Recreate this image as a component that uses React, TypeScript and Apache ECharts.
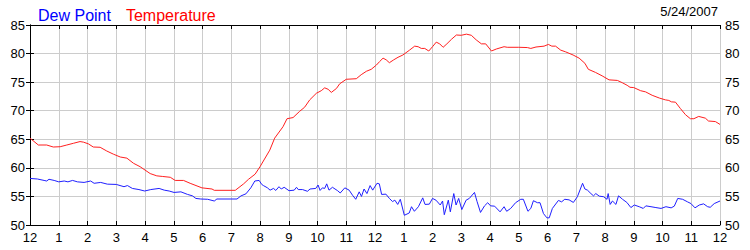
import React, { useEffect, useRef } from "react";
import * as echarts from "echarts";

const hourLabels = ["12","1","2","3","4","5","6","7","8","9","10","11","12","1","2","3","4","5","6","7","8","9","10","11","12"];

const tempHours = [0,0.29,0.58,0.81,1.05,1.28,1.51,1.74,1.86,2.03,2.2,2.44,2.67,2.9,3.14,3.37,3.6,3.83,4.18,4.41,4.6,4.88,5.05,5.34,5.57,5.98,6.33,6.41,7.14,7.43,7.6,7.83,8.0,8.34,8.51,8.8,8.94,9.15,9.38,9.55,9.73,9.96,10.13,10.25,10.37,10.48,10.66,10.77,11.0,11.35,11.52,11.7,11.87,12.05,12.16,12.28,12.39,12.5,12.65,12.8,12.97,13.2,13.38,13.5,13.61,13.73,13.87,14.0,14.13,14.25,14.37,14.5,14.66,14.83,15.0,15.18,15.35,15.52,15.7,15.85,16.05,16.22,16.49,16.6,17.0,17.3,17.42,17.6,17.88,18.03,18.15,18.28,18.46,18.63,18.89,19.1,19.3,19.42,19.67,19.9,20.14,20.43,20.6,20.77,20.87,21.0,21.24,21.41,21.64,21.9,22.1,22.22,22.31,22.45,22.62,22.8,22.97,23.09,23.26,23.49,23.6,23.84,24.0];
const tempValues = [65.2,64.0,64.0,63.65,63.7,64.0,64.3,64.6,64.5,64.2,63.65,63.6,62.95,62.4,61.9,61.7,60.8,60.2,59.0,58.6,58.5,58.35,57.8,57.8,57.3,56.5,56.3,56.07,56.07,57.2,58.0,58.9,60.2,63.1,65.2,67.2,68.6,68.8,69.9,70.6,71.9,73.05,73.5,74.0,73.75,73.2,73.9,74.7,75.5,75.6,76.3,76.9,77.25,78.0,78.6,79.2,78.9,78.4,78.9,79.35,79.75,80.6,81.3,81.2,80.9,80.9,80.45,81.2,82.0,81.7,81.1,81.7,82.5,83.25,83.2,83.4,83.2,82.4,81.7,81.7,80.45,80.8,81.2,81.1,81.1,81.05,80.9,81.15,81.3,81.6,81.3,81.3,80.6,80.3,79.75,79.2,78.3,77.25,76.7,76.1,75.4,75.3,74.9,74.45,74.1,74.05,73.5,73.3,72.7,72.2,71.9,71.8,71.55,71.5,70.4,69.3,68.6,68.6,69.0,68.7,68.2,68.1,67.6];

const dewHours = [0,0.26,0.49,0.58,0.66,0.84,1.0,1.19,1.32,1.48,1.65,1.88,2.11,2.23,2.46,2.69,3.0,3.27,3.39,3.56,3.79,3.99,4.2,4.49,4.67,4.84,5.01,5.25,5.48,5.65,5.77,5.94,6.18,6.41,6.5,6.99,7.2,7.34,7.51,7.68,7.82,7.97,8.06,8.12,8.26,8.35,8.47,8.55,8.66,8.74,8.84,9.01,9.19,9.27,9.33,9.48,9.65,9.74,9.94,10.02,10.09,10.17,10.25,10.32,10.4,10.52,10.7,10.79,10.95,11.1,11.22,11.33,11.45,11.53,11.62,11.72,11.83,11.92,12.07,12.15,12.23,12.38,12.5,12.61,12.69,12.79,12.88,13.02,13.19,13.27,13.37,13.51,13.66,13.74,13.89,14.0,14.12,14.27,14.35,14.41,14.55,14.62,14.74,14.82,14.91,15.02,15.17,15.28,15.46,15.55,15.67,15.81,15.92,16.02,16.16,16.35,16.49,16.58,16.72,16.89,17.07,17.16,17.32,17.42,17.51,17.65,17.74,17.86,17.98,18.06,18.17,18.38,18.49,18.6,18.75,18.9,19.04,19.22,19.3,19.39,19.51,19.6,19.68,19.8,19.95,20.07,20.11,20.18,20.26,20.38,20.47,20.61,20.76,20.9,21.02,21.19,21.33,21.42,21.6,21.77,21.95,22.12,22.3,22.41,22.53,22.7,22.87,22.99,23.13,23.28,23.43,23.57,23.66,23.8,24.0];
const dewValues = [58.15,58.05,57.8,57.7,58.0,57.8,57.55,57.7,57.55,57.8,57.55,57.45,57.7,57.3,57.45,57.15,57.1,56.7,56.9,56.4,56.2,55.95,56.2,56.4,56.1,55.95,55.7,55.8,55.35,55.1,54.65,54.55,54.5,54.2,54.55,54.55,54.55,55.1,55.45,56.5,57.7,57.8,57.1,56.9,56.5,56.1,56.4,56.05,56.7,56.3,56.6,56.0,56.1,56.6,56.2,56.2,55.9,56.3,56.4,57.0,56.05,56.5,56.4,57.2,56.1,56.6,56.0,55.6,56.5,56.1,55.2,54.5,55.8,55.0,56.3,55.5,56.9,56.1,57.3,57.2,55.35,55.4,54.65,54.1,54.35,53.6,54.5,51.7,52.1,53.2,52.4,53.2,54.75,53.6,53.65,54.65,54.35,53.5,54.2,51.8,54.35,52.3,55.5,53.5,54.65,52.7,54.35,54.65,55.7,54.1,52.2,53.35,53.9,53.35,53.3,52.3,53.2,52.4,52.9,53.9,54.5,54.5,52.4,52.9,54.25,53.9,53.9,52.0,51.25,51.25,52.9,54.3,54.05,54.5,54.4,53.95,54.95,57.3,56.3,56.1,55.5,55.1,55.5,55.05,54.95,54.5,55.5,53.6,54.2,53.6,55.1,54.5,53.95,53.05,53.5,53.2,52.9,53.35,53.2,53.05,52.9,53.2,53.0,53.3,54.65,54.5,54.05,53.75,53.0,53.5,53.7,53.2,53.1,53.75,54.2];

const dateLabel = "5/24/2007";
const FONT = "'Liberation Sans', Arial, sans-serif";

export default function App() {
  const ref = useRef<HTMLDivElement>(null);
  useEffect(() => {
    if (!ref.current) return;
    const chart = echarts.init(ref.current, null, { renderer: "svg" });
    const pair = (hs: number[], vs: number[]) => hs.map((h, i) => [h, vs[i]]);
    const gridLine = { show: true, lineStyle: { color: "#cccccc", width: 1 } };
    const axisLine = { show: true, lineStyle: { color: "#000000", width: 1 } };
    const label = { color: "#000000", fontSize: 13, fontFamily: FONT };
    chart.setOption({
      animation: false,
      backgroundColor: "#ffffff",
      textStyle: { fontFamily: FONT },
      grid: { left: 30, right: 30, top: 25, bottom: 25, containLabel: false },
      legend: {
        left: 28,
        top: 2,
        icon: "none",
        itemWidth: 0,
        itemHeight: 0,
        itemGap: 10,
        selectedMode: false,
        textStyle: { fontSize: 16, fontFamily: FONT },
        data: [
          { name: "Dew Point", textStyle: { color: "#0000ff" } },
          { name: "Temperature", textStyle: { color: "#ff0000" } },
        ],
      },
      graphic: [
        {
          type: "text",
          right: 32,
          top: 5,
          style: { text: dateLabel, fill: "#000000", font: `13px ${FONT}` },
        },
      ],
      xAxis: [
        {
          type: "value",
          min: 0,
          max: 24,
          interval: 1,
          position: "bottom",
          axisLine,
          axisTick: { show: true, inside: true, length: 4, lineStyle: { color: "#000" } },
          splitLine: gridLine,
          axisLabel: { ...label, margin: 6, formatter: (v: number) => hourLabels[Math.round(v)] },
        },
        {
          type: "value",
          min: 0,
          max: 24,
          interval: 1,
          position: "top",
          axisLine,
          axisTick: { show: true, inside: true, length: 4, lineStyle: { color: "#000" } },
          splitLine: { show: false },
          axisLabel: { show: false },
        },
      ],
      yAxis: [
        {
          type: "value",
          min: 50,
          max: 85,
          interval: 5,
          position: "left",
          axisLine,
          axisTick: { show: true, inside: false, length: 4, lineStyle: { color: "#000" } },
          splitLine: gridLine,
          axisLabel: { ...label, margin: 5 },
        },
        {
          type: "value",
          min: 50,
          max: 85,
          interval: 5,
          position: "right",
          axisLine,
          axisTick: { show: true, inside: false, length: 4, lineStyle: { color: "#000" } },
          splitLine: { show: false },
          axisLabel: { ...label, margin: 5 },
        },
      ],
      series: [
        {
          name: "Dew Point",
          type: "line",
          data: pair(dewHours, dewValues),
          showSymbol: false,
          symbol: "none",
          lineStyle: { color: "#1f1fff", width: 1 },
          itemStyle: { color: "#0000ff" },
          z: 3,
        },
        {
          name: "Temperature",
          type: "line",
          data: pair(tempHours, tempValues),
          showSymbol: false,
          symbol: "none",
          lineStyle: { color: "#ff1f1f", width: 1 },
          itemStyle: { color: "#ff0000" },
          z: 4,
        },
      ],
    });
    return () => chart.dispose();
  }, []);
  return (
    <div
      ref={ref}
      style={{ position: "fixed", left: 0, top: 0, width: 750, height: 250 }}
    />
  );
}
